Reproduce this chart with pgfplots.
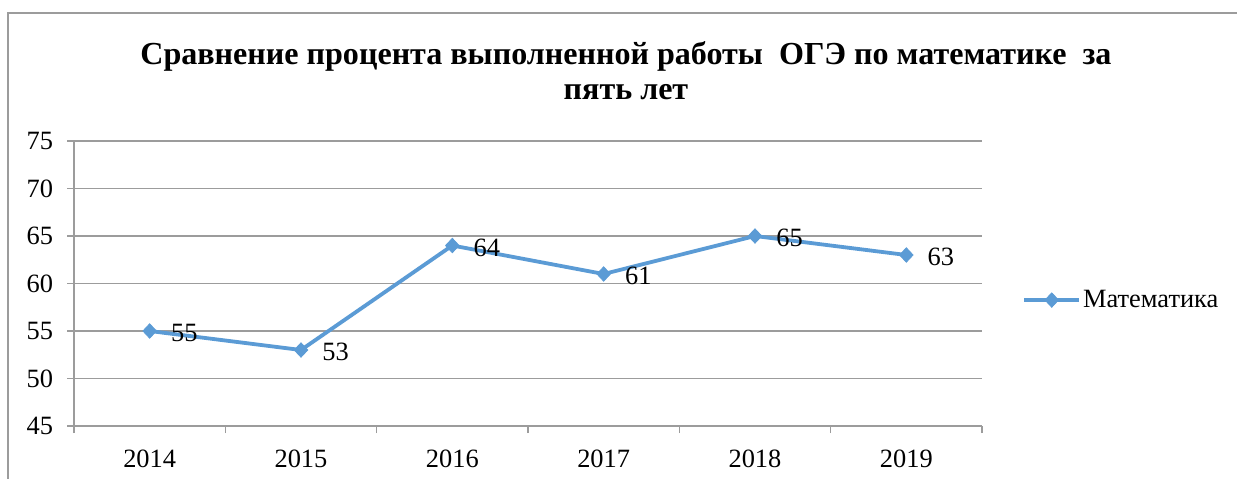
\documentclass[border=0pt]{standalone}
\usepackage{fontspec}
\setmainfont{Liberation Serif}
\usepackage{pgfplots}
\pgfplotsset{compat=1.18}
\definecolor{lineblue}{HTML}{5B9BD5}
\definecolor{gridgray}{HTML}{9C9C9C}
\begin{document}
\begin{tikzpicture}
\path[use as bounding box] (0,0) rectangle (618.5bp,-239.5bp);
\draw[gridgray, line width=0.7bp] (4bp,-239.5bp) -- (4bp,-6.5bp) -- (618.5bp,-6.5bp);
\node[font=\bfseries\fontsize{16.1}{17.5}\selectfont, align=center] at (313bp,-35.5bp)
  {Сравнение процента выполненной работы\ \ ОГЭ по математике\ \ за\\пять лет};
\begin{axis}[
  at={(37bp,-213bp)}, anchor=south west,
  scale only axis, width=454bp, height=142.5bp,
  xmin=-0.5, xmax=5.5, ymin=45, ymax=75,
  ytick={45,50,...,75},
  xtick={-0.5,0.5,1.5,2.5,3.5,4.5,5.5},
  x tick label as interval,
  xticklabels={2014,2015,2016,2017,2018,2019},
  axis lines*=left,
  axis line style={-, draw=gridgray, line width=0.7bp},
  ymajorgrids,
  grid style={draw=gridgray, line width=0.7bp},
  tick align=outside,
  tick style={draw=gridgray, line width=0.7bp},
  major tick length=3.5bp,
  tick label style={font=\fontsize{13.25}{15}\selectfont},
  /pgf/number format/assume math mode=true,
  yticklabel style={xshift=-3.5bp},
  xticklabel style={yshift=-5bp},
  legend style={at={(axis description cs:1.044,0.442)}, anchor=west, draw=none, inner sep=0pt,
    font=\fontsize{13.25}{15}\selectfont, nodes={inner xsep=1bp}},
  legend cell align=left,
  legend image code/.code={
    \draw[#1, mark=none] (0bp,0bp) -- (27.5bp,0bp);
    \draw[#1, only marks] plot coordinates {(13.75bp,0bp)};
  },
]
\addplot[color=lineblue, line width=1.9bp, mark=diamond*, mark size=3.6bp,
  mark options={fill=lineblue, draw=lineblue, line width=0.4bp, xscale=1.25},
  nodes near coords,
  every node near coord/.style={anchor=west, xshift=10.5bp, yshift=-1bp, text=black, inner sep=0pt,
    font=\fontsize{13.25}{15}\selectfont},
] coordinates {(0,55) (1,53) (2,64) (3,61) (4,65) (5,63)};
\addlegendentry{Математика}
\end{axis}
\end{tikzpicture}
\end{document}
